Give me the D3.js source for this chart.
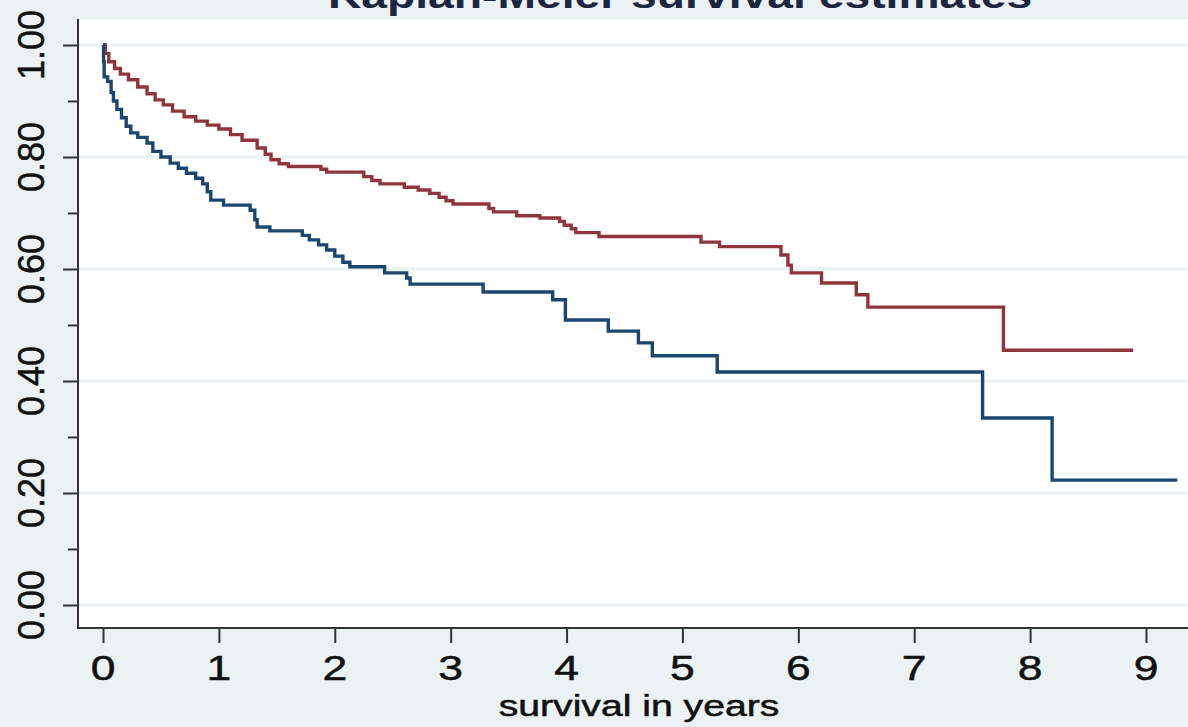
<!DOCTYPE html>
<html>
<head>
  <meta http-equiv="Content-Type" content="text/html;charset=utf-8" />
  <style type="text/css">
    body { margin: 0; background: #eaf2f3; }
    text { font-family: "Liberation Sans", Arial, sans-serif; fill: #111; stroke: #111; stroke-width: 0.5px; }
  </style>
</head>
<body>
  <div id="chart"></div>
  <script src="https://d3js.org/d3.v7.min.js"></script>
  <script type="text/javascript">
    // step points: time of event (years), survival estimate after it
    var redTime = [0, 0.02, 0.05, 0.1, 0.15, 0.22, 0.3, 0.38, 0.45, 0.52, 0.6, 0.7, 0.8, 0.9, 1.0, 1.1, 1.2, 1.33, 1.4, 1.45, 1.52, 1.6, 1.88, 1.93, 2.25, 2.32, 2.39, 2.6, 2.72, 2.82, 2.9, 2.96, 3.02, 3.33, 3.37, 3.57, 3.77, 3.94, 3.98, 4.04, 4.08, 4.28, 5.16, 5.32, 5.85, 5.91, 5.94, 6.2, 6.5, 6.6, 7.77, 8.89];
    var redSurv = [1.0, 0.985, 0.97, 0.958, 0.948, 0.938, 0.925, 0.913, 0.902, 0.893, 0.882, 0.872, 0.864, 0.857, 0.85, 0.84, 0.83, 0.816, 0.805, 0.795, 0.788, 0.783, 0.778, 0.773, 0.765, 0.758, 0.752, 0.746, 0.741, 0.735, 0.728, 0.722, 0.716, 0.708, 0.702, 0.695, 0.691, 0.685, 0.678, 0.672, 0.665, 0.658, 0.648, 0.64, 0.625, 0.607, 0.593, 0.575, 0.554, 0.532, 0.455, 0.455];

    var blueTime = [0, 0.005, 0.01, 0.04, 0.07, 0.09, 0.12, 0.16, 0.2, 0.24, 0.3, 0.38, 0.43, 0.5, 0.58, 0.65, 0.72, 0.8, 0.86, 0.9, 0.93, 1.04, 1.27, 1.31, 1.33, 1.44, 1.72, 1.78, 1.86, 1.93, 2.0, 2.07, 2.13, 2.43, 2.62, 2.65, 3.28, 3.88, 3.99, 4.36, 4.62, 4.74, 5.3, 7.59, 8.19, 9.27];
    var blueSurv = [1.0, 0.97, 0.943, 0.935, 0.915, 0.9, 0.885, 0.87, 0.855, 0.843, 0.835, 0.825, 0.81, 0.8, 0.789, 0.78, 0.771, 0.762, 0.752, 0.738, 0.723, 0.714, 0.705, 0.688, 0.675, 0.668, 0.66, 0.652, 0.643, 0.634, 0.623, 0.612, 0.604, 0.593, 0.584, 0.573, 0.559, 0.545, 0.509, 0.489, 0.468, 0.445, 0.416, 0.334, 0.223, 0.223];

    var xTicks = [0, 1, 2, 3, 4, 5, 6, 7, 8, 9];
    var yTicks = [0, 0.2, 0.4, 0.6, 0.8, 1.0];
    var yMinor = [0.1, 0.3, 0.5, 0.7, 0.9];

    var w = 1188, h = 727;
    var pLeft = 78, pRight = 1188, pTop = 19, pBottom = 628;

    var svg = d3.select("#chart").append("svg")
      .attr("width", w)
      .attr("height", h);

    svg.append("rect").attr("width", w).attr("height", h).attr("fill", "#eaf2f3");
    svg.append("rect")
      .attr("x", pLeft).attr("y", pTop)
      .attr("width", pRight - pLeft).attr("height", pBottom - pTop)
      .attr("fill", "#ffffff");

    var x = d3.scaleLinear().domain([0, 9]).range([103, 1146]);
    var y = d3.scaleLinear().domain([0, 1]).range([605, 45]);

    // grid
    svg.selectAll(".grid").data(yTicks).enter().append("line")
      .attr("x1", pLeft).attr("x2", pRight)
      .attr("y1", function (d) { return y(d); })
      .attr("y2", function (d) { return y(d); })
      .attr("stroke", "#eaf2f3")
      .attr("stroke-width", 3);

    // title, mostly cut off at the top as in the original
    svg.append("text")
      .attr("transform", "translate(680,8) scale(1.25,1)")
      .attr("text-anchor", "middle")
      .style("font-size", "37px")
      .style("font-weight", "bold")
      .style("fill", "#1c2640")
      .style("stroke", "none")
      .text("Kaplan-Meier survival estimates");

    var line = d3.line()
      .x(function (d) { return x(d[0]); })
      .y(function (d) { return y(d[1]); })
      .curve(d3.curveStepAfter);

    svg.append("path")
      .attr("d", line(d3.zip(redTime, redSurv)))
      .attr("fill", "none")
      .attr("stroke", "#90353b")
      .attr("stroke-width", 3.4);

    svg.append("path")
      .attr("d", line(d3.zip(blueTime, blueSurv)))
      .attr("fill", "none")
      .attr("stroke", "#1a476f")
      .attr("stroke-width", 3.4);

    // axes
    var yAxis = d3.axisLeft(y).tickValues(yTicks).tickSize(15).tickFormat("");
    var yAxisMinor = d3.axisLeft(y).tickValues(yMinor).tickSize(10).tickFormat("");
    var xAxis = d3.axisBottom(x).tickValues(xTicks).tickSize(15).tickFormat("");

    svg.append("g").attr("transform", "translate(" + pLeft + ",0)").call(yAxis);
    svg.append("g").attr("transform", "translate(" + pLeft + ",0)").call(yAxisMinor);
    svg.append("g").attr("transform", "translate(0," + pBottom + ")").call(xAxis);

    svg.selectAll(".domain").remove();
    svg.selectAll(".tick line").attr("stroke", "#333").attr("stroke-width", 2);

    svg.append("line").attr("x1", pLeft).attr("x2", pLeft).attr("y1", pTop).attr("y2", pBottom + 1)
      .attr("stroke", "#333").attr("stroke-width", 2);
    svg.append("line").attr("x1", pLeft).attr("x2", pRight).attr("y1", pBottom).attr("y2", pBottom)
      .attr("stroke", "#333").attr("stroke-width", 2);

    // tick labels
    svg.selectAll(".ylab").data(yTicks).enter().append("text")
      .attr("transform", function (d) { return "translate(44," + y(d) + ") rotate(-90)"; })
      .attr("text-anchor", "middle")
      .style("font-size", "36px")
      .text(function (d) { return d3.format(".2f")(d); });

    svg.selectAll(".xlab").data(xTicks).enter().append("text")
      .attr("transform", function (d) { return "translate(" + x(d) + ",680) scale(1.27,1)"; })
      .attr("text-anchor", "middle")
      .style("font-size", "35px")
      .text(function (d) { return d; });

    svg.append("text")
      .attr("transform", "translate(639,716) scale(1.35,1)")
      .attr("text-anchor", "middle")
      .style("font-size", "29px")
      .text("survival in years");
  </script>
</body>
</html>
